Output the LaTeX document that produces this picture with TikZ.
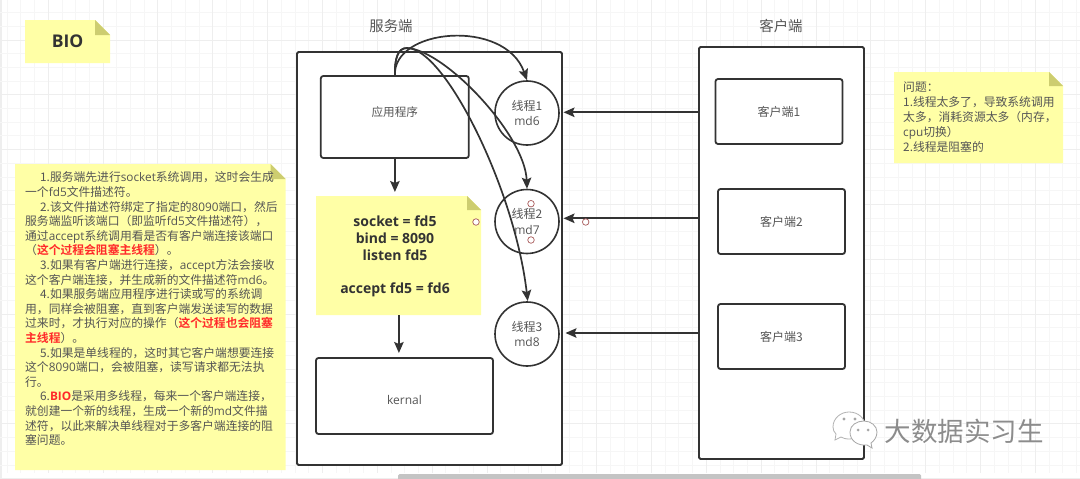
\documentclass[tikz,border=0pt]{standalone}
\usepackage{fontspec}
\setmainfont{Noto Sans CJK SC}[BoldFont={Noto Sans CJK SC Bold}]
\newfontfamily\lat{Open Sans}[BoldFont={Open Sans Bold}]
\usetikzlibrary{arrows.meta}
\definecolor{ink}{HTML}{333333}
\definecolor{txt}{HTML}{555555}
\definecolor{paper}{HTML}{FFFFA6}
\definecolor{foldc}{HTML}{CDCD70}
\definecolor{gridminor}{HTML}{F6F6F6}
\definecolor{gridmajor}{HTML}{EEEEEE}
\definecolor{alert}{HTML}{FF2A2A}
\definecolor{handle}{HTML}{A85A5A}
\newcommand{\la}[1]{{\lat #1}}
\newcommand{\hot}[1]{\textcolor{alert}{\textbf{#1}}}
\newcommand{\fs}[2]{\fontsize{#1}{#2}\selectfont}
% sticky note: #1 left, #2 top, #3 right, #4 bottom, #5 fold size
\newcommand{\notepaper}[5]{%
  \fill[paper] (#1,#2) -- ({#3-#5},#2) -- (#3,{#2+#5}) -- (#3,#4) -- (#1,#4) -- cycle;
  \fill[foldc] ({#3-#5},#2) -- (#3,{#2+#5}) -- ({#3-#5},{#2+#5}) -- cycle;}
\tikzset{
  x=1pt, y=-1pt,
  frame/.style={draw=ink, line width=1.8pt, fill=white, rounded corners=1.5pt},
  procbox/.style={draw=ink, line width=1.8pt, rounded corners=2.5pt, fill=white, inner sep=0pt},
  clientbox/.style={procbox, minimum width=127pt, minimum height=65pt, text=txt, font=\fs{12}{15}},
  thread/.style={circle, draw=ink, line width=1.6pt, fill=white, minimum size=64pt, inner sep=0pt,
    text=txt, align=center, font=\fs{12}{15.5}},
  label/.style={text=txt, inner sep=0pt, align=center, font=\fs{12}{15}},
  title/.style={text=txt, inner sep=0pt, font=\fs{14.4}{17}},
  flow/.style={draw=ink, line width=1.7pt, -{Stealth[length=11pt,width=9.5pt,inset=2pt]}},
  handlemark/.style={circle, draw=handle, line width=.7pt, fill=white, minimum size=6.5pt, inner sep=0pt},
}
\begin{document}
\begin{tikzpicture}
\useasboundingbox (0,0) rectangle (1080,479);
\fill[white] (0,0) rectangle (1080,479);
\fill[gridmajor] (0,0) rectangle (2,479);
% background grid
\foreach \i in {0,...,78} {
  \pgfmathsetmacro{\gx}{7.17+13.71*\i}
  \draw[gridminor, line width=1pt] (\gx,0) -- (\gx,473);
}
\foreach \i in {0,...,34} {
  \pgfmathsetmacro{\gy}{12.6+13.71*\i}
  \draw[gridminor, line width=1pt] (0,\gy) -- (1080,\gy);
}
\foreach \i in {0,...,19} {
  \pgfmathsetmacro{\gx}{48.3+54.84*\i}
  \draw[gridmajor, line width=1pt] (\gx,0) -- (\gx,473);
}
\foreach \i in {0,...,8} {
  \pgfmathsetmacro{\gy}{40+54.84*\i}
  \draw[gridmajor, line width=1pt] (0,\gy) -- (1080,\gy);
}
% scroll bar
\fill[black!23, rounded corners=1.5pt] (398,474) rectangle (921,482);

% heading note
\notepaper{25}{20}{110}{63}{15}
\node[text=ink, inner sep=0pt, font=\fs{17.5}{20}\lat\bfseries] (bio) at (67.5,41.5) {BIO};

% titles
\node[title] (servertitle) at (391,26) {服务端};
\node[title] (clienttitle) at (781,26) {客户端};

% server side
\draw[frame] (297,52) rectangle (562,465);
\node[procbox, minimum width=148pt, minimum height=82pt] (app) at (394.8,117) {};
\node[label] (apptext) at (394.8,112) {\fs{11.6}{14}应用程序};
\coordinate (appout) at (394.9,76);
\coordinate (crest) at (407,48);

\node[thread] (t1) at (527,113) {线程1\\\la{md6}};
\node[thread] (t2) at (527,221.5) {线程2\\\la{md7}};
\node[thread] (t3) at (527,334) {线程3\\\la{md8}};

% syscall note
\notepaper{316}{196}{481}{315}{14}
\node[text=ink, inner sep=0pt, align=center, font=\fs{14}{16.8}\lat\bfseries] (calls) at (395,256.5)
  {socket = fd5\\bind = 8090\\listen fd5\\[16.8pt]accept fd5 = fd6};

\node[procbox, minimum width=177pt, minimum height=76pt] (kernal) at (404.5,396) {};
\node[label] (kernaltext) at (404.5,400) {\la{kernal}};

% client side
\draw[frame] (699,47) rectangle (864,459);
\node[clientbox] (c1) at (779,111.5) {客户端1};
\node[clientbox] (c2) at (781.5,221.5) {客户端2};
\node[clientbox] (c3) at (781.5,336.5) {客户端3};

% connectors
\coordinate (p1) at (699,112.3);
\coordinate (q1) at (563.5,112.3);
\coordinate (p2) at (699,218.3);
\coordinate (q2) at (563.5,218.3);
\coordinate (p3) at (699,333);
\coordinate (q3) at (565.5,333);
\draw[flow] (p1) -- (q1);
\draw[flow] (p2) -- (q2);
\draw[flow] (p3) -- (q3);
\coordinate (a1) at (394.9,192);
\draw[flow] (app.south -| appout) -- (a1);
\coordinate (a2) at (398.9,353);
\coordinate (a3) at (398.9,315);
\draw[flow] (a3) -- (a2);

\draw[flow] (appout) .. controls (392,28) and (505,18) .. (t1.north);
\draw[flow] (appout) .. controls (394.5,58) and (398,48) .. (crest)
  .. controls (445,50) and (525,135) .. (t2.north);
\draw[flow] (appout) .. controls (394.5,58) and (398,48) .. (crest)
  .. controls (445,48) and (515,190) .. (527.7,301);

% selection handles
\node[handlemark] (h1) at (531,203.7) {};
\node[handlemark] (h2) at (531,240) {};
\node[handlemark] (h3) at (476,222) {};
\node[handlemark] (h4) at (585.7,222) {};

% explanation note
\notepaper{15}{164}{285.5}{470}{15}
\node[anchor=north west, text=txt, inner sep=0pt, align=left, font=\fs{11.8}{14.6}] (steps) at (25,171.8) {%
\hspace*{15pt}1.服务端先进行\la{socket}系统调用，这时会生成\\
一个\la{fd5}文件描述符。\\
\hspace*{15pt}2.该文件描述符绑定了指定的\la{8090}端口，然后\\
服务端监听该端口（即监听\la{fd5}文件描述符），\\
通过\la{accept}系统调用看是否有客户端连接该端口\\
（\hot{这个过程会阻塞主线程}）。\\
\hspace*{15pt}3.如果有客户端进行连接，\la{accept}方法会接收\\
这个客户端连接，并生成新的文件描述符\la{md6}。\\
\hspace*{15pt}4.如果服务端应用程序进行读或写的系统调\\
用，同样会被阻塞，直到客户端发送读写的数据\\
过来时，才执行对应的操作（\hot{这个过程也会阻塞}\\
\hot{主线程}）。\\
\hspace*{15pt}5.如果是单线程的，这时其它客户端想要连接\\
这个\la{8090}端口，会被阻塞，读写请求都无法执\\
行。\\
\hspace*{15pt}6.\textcolor{alert}{\lat\bfseries BIO}是采用多线程，每来一个客户端连接，\\
就创建一个新的线程，生成一个新的\la{md}文件描\\
述符，以此来解决单线程对于多客户端连接的阻\\
塞问题。};

% problems note
\notepaper{894}{72}{1063}{163}{14}
\node[anchor=north west, text=txt, inner sep=0pt, align=left, font=\fs{11.8}{15}] (issues) at (903,81.5) {%
问题：\\
1.线程太多了，导致系统调用\\
太多，消耗资源太多（内存，\\
\la{cpu}切换）\\
2.线程是阻塞的};

% account mark and name
\begin{scope}[shift={(825,405)}]
  \draw[black!30, fill=white, line width=.8pt] (8,22) .. controls (8,13) and (16,7) .. (24,7)
    .. controls (33,7) and (40,13) .. (40,21) .. controls (40,29) and (33,34) .. (24,34)
    .. controls (20,34) and (18,33) .. (16,32) -- (10,35) -- (11,29) .. controls (9,27) and (8,25) .. (8,22) -- cycle;
  \fill[black!35] (19,14) circle (1.6pt) (30,14) circle (1.6pt);
  \draw[black!35, fill=white, line width=.8pt] (25,27) .. controls (25,20) and (32,16) .. (39,16)
    .. controls (46,16) and (52,21) .. (52,27) .. controls (52,32) and (49,36) .. (46,38) -- (47,43) -- (42,40)
    .. controls (33,41) and (25,36) .. (25,27) -- cycle;
  \fill[black!35] (33,25) circle (1.5pt) (43,25) circle (1.5pt);
\end{scope}
\node[text=white, inner sep=0pt, font=\fs{26.5}{30}] (wmshade) at (965,432) {大数据实习生};
\node[text=black!45, inner sep=0pt, font=\fs{26.5}{30}] (wm) at (964.3,431.3) {大数据实习生};
\end{tikzpicture}
\end{document}
